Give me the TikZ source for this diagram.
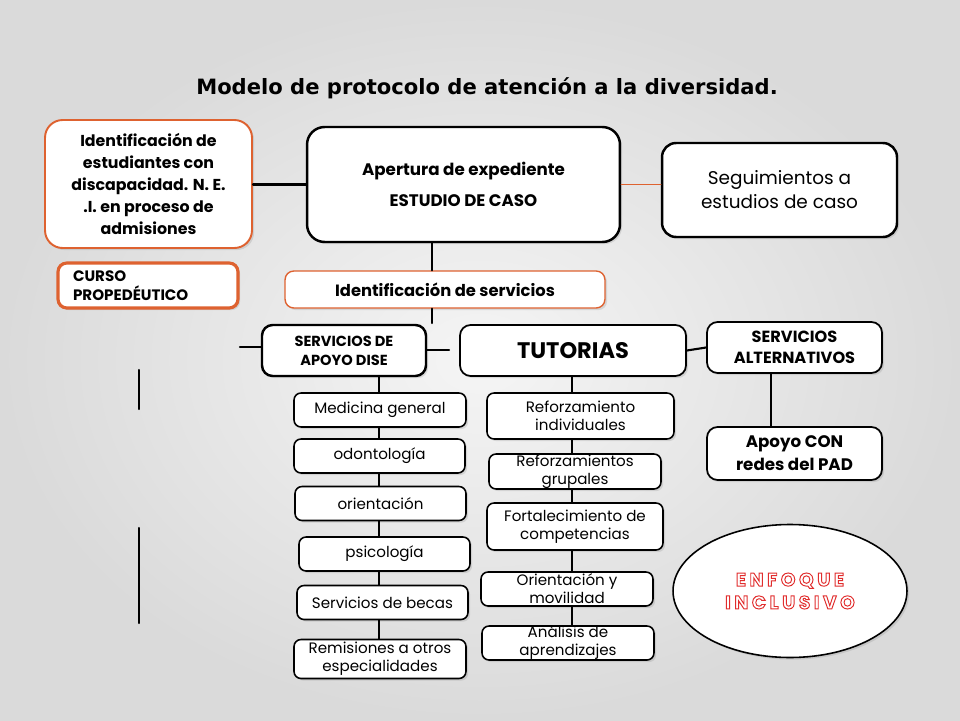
\documentclass[tikz,border=0pt]{standalone}
\usepackage{fontspec}
\setmainfont{Poppins}
\newfontfamily\titlefont{DejaVu Sans}
\newfontfamily\spacedfont[LetterSpace=20]{Poppins}
\usepackage{tikz}
\usetikzlibrary{positioning,shapes.geometric,calc,shadows}
\definecolor{naranja}{RGB}{222,98,48}
\definecolor{fondoC}{RGB}{245,245,245}
\definecolor{fondoO}{RGB}{218,218,218}
\definecolor{rojoE}{RGB}{225,45,45}

% stroke-only letters for the ellipse
\newcommand{\hueco}[1]{\special{pdf:literal direct 1 Tr 0.55 w}#1\special{pdf:literal direct 0 Tr}}

\begin{document}
\begin{tikzpicture}[x=0.02cm, y=-0.02cm, line cap=round]
  \tikzset{
    sombra/.style={drop shadow={shadow xshift=1.2pt, shadow yshift=-1.2pt, opacity=0.22}},
    caja/.style={draw=black, line width=1.4pt, rounded corners=10pt, fill=white, align=center, inner sep=0pt, sombra},
    cajaN/.style={draw=naranja, line width=1.1pt, rounded corners=10pt, fill=white, align=center, inner sep=0pt, sombra},
    item/.style={draw=black, line width=0.9pt, rounded corners=4pt, fill=white, align=center, sombra,
                 inner sep=0pt, minimum height=0.68cm, font=\fontsize{8.6}{10.2}\selectfont},
    enlace/.style={line width=1.2pt, black}
  }
  % background
  \shade[inner color=fondoC, outer color=fondoO] (0,0) rectangle (960,720);
  \useasboundingbox (0,0) rectangle (960,720);

  % title
  \node (titulo) at (487,88) {\titlefont\bfseries\fontsize{12}{14}\selectfont Modelo de protocolo de atención a la diversidad.};

  % top row
  \node[cajaN, minimum width=4.14cm, minimum height=2.56cm, font=\bfseries\fontsize{9}{12.5}\selectfont] (ident) at (148.5,184)
    {Identificación de\\estudiantes con\\discapacidad. N. E.\\.I. en proceso de\\admisiones};
  \node[cajaN, line width=1.8pt, rounded corners=5pt, text width=3.0cm, inner xsep=0.3cm, minimum height=0.9cm,
        align=left, font=\bfseries\fontsize{8.6}{10.8}\selectfont] (curso) at (148,285.5) {CURSO\\PROPEDÉUTICO};
  \node[caja, minimum width=6.26cm, minimum height=2.3cm, font=\bfseries\fontsize{9.5}{18}\selectfont] (apert) at (463.5,184.5)
    {Apertura de expediente\\ESTUDIO DE CASO};
  \node[caja, minimum width=4.7cm, minimum height=1.88cm, rounded corners=8pt, font=\fontsize{10.5}{13.6}\selectfont] (segui) at (779.5,190)
    {Seguimientos a\\estudios de caso};
  \node[cajaN, line width=0.8pt, rounded corners=5pt, minimum width=6.4cm, minimum height=0.74cm, font=\bfseries\fontsize{9.3}{11}\selectfont] (idserv) at (445,289.5)
    {Identificación de servicios};

  % second row
  \node[caja, rounded corners=6pt, minimum width=3.28cm, minimum height=1.02cm, font=\bfseries\fontsize{8.3}{10.8}\selectfont] (dise) at (344,350.5)
    {SERVICIOS DE\\APOYO DISE};
  \node[caja, line width=1pt, rounded corners=6pt, minimum width=4.52cm, minimum height=1.02cm, font=\bfseries\fontsize{12.8}{14}\selectfont] (tuto) at (573,350.5)
    {TUTORIAS};
  \node[caja, line width=1pt, rounded corners=6pt, minimum width=3.5cm, minimum height=1.02cm, font=\bfseries\fontsize{9.2}{12}\selectfont] (alter) at (794.5,347.5)
    {SERVICIOS\\ALTERNATIVOS};
  \node[caja, line width=1pt, rounded corners=6pt, minimum width=3.5cm, minimum height=1.06cm, font=\bfseries\fontsize{9.5}{13}\selectfont] (apoyo) at (794.5,453.5)
    {Apoyo CON\\redes del PAD};
  \node[draw=black, line width=0.9pt, fill=white, ellipse, minimum width=4.68cm, minimum height=2.66cm, inner sep=0pt, sombra,
        align=center, text=rojoE, font=\spacedfont\bfseries\fontsize{10.5}{13}\selectfont] (enfoque) at (790,591)
    {\hueco{ENFOQUE}\\\hueco{INCLUSIVO}};

  % DISE column
  \node[item, minimum width=3.44cm] (medic) at (380,410) {Medicina general};
  \node[item, minimum width=3.42cm] (odont) at (379.5,456) {odontología};
  \node[item, minimum width=3.42cm] (orien) at (380.5,503.5) {orientación};
  \node[item, minimum width=3.42cm] (psico) at (384.5,554) {psicología};
  \node[item, minimum width=3.42cm] (becas) at (382.5,602.5) {Servicios de becas};
  \node[item, minimum width=3.44cm, minimum height=0.78cm] (remis) at (380,659) {Remisiones a otros\\especialidades};

  % TUTORIAS column
  \node[item, minimum width=3.74cm, minimum height=0.92cm] (refind) at (580.5,416) {Reforzamiento\\individuales};
  \node[item, minimum width=3.44cm, minimum height=0.70cm] (refgru) at (575,471.5) {Reforzamientos\\grupales};
  \node[item, minimum width=3.52cm, minimum height=0.94cm] (fortal) at (575,526.5) {Fortalecimiento de\\competencias};
  \node[item, minimum width=3.44cm] (orimov) at (567,589) {Orientación y\\movilidad};
  \node[item, minimum width=3.44cm] (analis) at (568,643) {Análisis de\\aprendizajes};

  % helper points
  \coordinate (tronco) at (432,0);
  \coordinate (troncoFin) at (432,323);
  \coordinate (colD) at (379,0);
  \coordinate (colT) at (572,0);
  \coordinate (diseIz) at (240,347);
  \coordinate (diseDe) at (449,350);
  \coordinate (barA1) at (139,370);
  \coordinate (barA2) at (139,409);
  \coordinate (barB1) at (139,528);
  \coordinate (barB2) at (139,623);

  % connectors
  \draw[enlace] (ident.east |- apert.west) -- (apert.west);
  \draw[naranja, line width=0.8pt] (apert.east) -- (apert.east -| segui.west);
  \draw[enlace] (apert.south -| tronco) -- (idserv.north -| tronco);
  \draw[enlace] (idserv.south -| tronco) -- (troncoFin);
  \draw[enlace] (diseIz) -- (diseIz -| dise.west);
  \draw[enlace] (diseDe -| dise.east) -- (diseDe);
  \draw[enlace] (tuto.east) -- (alter.west);
  \draw[enlace] ([xshift=-0.47cm]alter.south) -- ([xshift=-0.47cm]apoyo.north);
  \foreach \a/\b in {dise/medic, medic/odont, odont/orien, orien/psico, psico/becas, becas/remis}
    \draw[enlace] (\a.south -| colD) -- (\b.north -| colD);
  \foreach \a/\b in {tuto/refind, refind/refgru, refgru/fortal, fortal/orimov, orimov/analis}
    \draw[enlace] (\a.south -| colT) -- (\b.north -| colT);
  \draw[enlace] (barA1) -- (barA2);
  \draw[enlace] (barB1) -- (barB2);
\end{tikzpicture}
\end{document}
